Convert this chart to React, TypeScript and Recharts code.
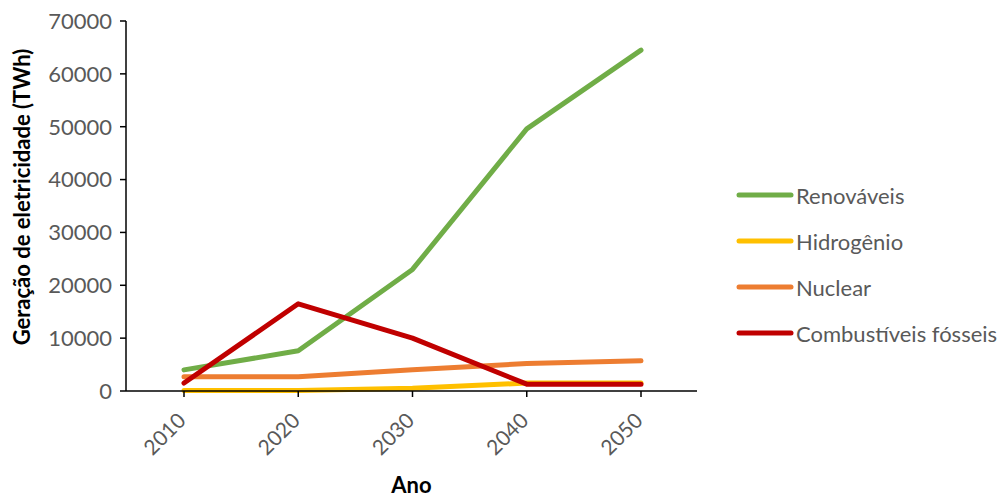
import { CartesianGrid, Legend, Line, LineChart, XAxis, YAxis } from "recharts";

const years = ["2010", "2020", "2030", "2040", "2050"];
const renovaveis = [4000, 7600, 23000, 49600, 64500];
const hidrogenio = [100, 100, 500, 1500, 1500];
const nuclear = [2700, 2700, 4000, 5200, 5700];
const fosseis = [1500, 16500, 10000, 1300, 1300];
const yTicks = [0, 10000, 20000, 30000, 40000, 50000, 60000, 70000];

const series = [
  { key: "renovaveis", name: "Renováveis", color: "#70AD47" },
  { key: "hidrogenio", name: "Hidrogênio", color: "#FFC000" },
  { key: "nuclear", name: "Nuclear", color: "#ED7D31" },
  { key: "fosseis", name: "Combustíveis fósseis", color: "#C00000" },
];

const data = years.map((year, i) => ({
  year,
  renovaveis: renovaveis[i],
  hidrogenio: hidrogenio[i],
  nuclear: nuclear[i],
  fosseis: fosseis[i],
}));

const font = "Lato, 'Open Sans', sans-serif";
const gray = "#595959";

const XTick = (props: any) => {
  const { x, y, payload } = props;
  return (
    <text
      x={x + 3}
      y={y + 23}
      transform={`rotate(-45, ${x + 3}, ${y + 23})`}
      textAnchor="end"
      fill={gray}
      fontSize={21}
      fontFamily={font}
    >
      {payload.value}
    </text>
  );
};

const YLabel = (props: any) => {
  const { viewBox } = props;
  const cy = viewBox.y + viewBox.height / 2 - 9;
  return (
    <text
      x={30}
      y={cy}
      transform={`rotate(-90, 30, ${cy})`}
      textAnchor="middle"
      fill="#000"
      fontSize={22}
      fontWeight={700}
      fontFamily={font}
    >
      Geração de eletricidade (TWh)
    </text>
  );
};

const LegendContent = () => (
  <div style={{ fontFamily: font, fontSize: 22, color: gray }}>
    {series.map((s) => (
      <div key={s.key} style={{ display: "flex", alignItems: "center", height: 46 }}>
        <svg width={58} height={10} style={{ marginRight: 2 }}>
          <line x1={3} y1={5} x2={55} y2={5} stroke={s.color} strokeWidth={5} strokeLinecap="round" />
        </svg>
        <span>{s.name}</span>
      </div>
    ))}
  </div>
);

export default function App() {
  return (
    <div style={{ position: "absolute", left: 0, top: 0, width: 1003, height: 499, background: "#fff" }}>
      <LineChart
        width={1003}
        height={499}
        data={data}
        margin={{ top: 21, right: 306, bottom: 0, left: 0 }}
      >
        <CartesianGrid horizontal={false} vertical={false} />
        <XAxis
          dataKey="year"
          padding={{ left: 58, right: 56 }}
          axisLine={{ stroke: "#000", strokeWidth: 1.5 }}
          tickLine={{ stroke: "#000", strokeWidth: 1.5 }}
          tickSize={6}
          height={108}
          tick={<XTick />}
          interval={0}
          label={{
            value: "Ano",
            position: "insideBottom",
            offset: 6,
            fill: "#000",
            fontSize: 22,
            fontWeight: 700,
            fontFamily: font,
          }}
        />
        <YAxis
          width={126}
          domain={[0, 70000]}
          ticks={yTicks}
          interval={0}
          axisLine={{ stroke: "#000", strokeWidth: 1.5 }}
          tickLine={{ stroke: "#000", strokeWidth: 1.5 }}
          tickSize={6}
          tickMargin={8}
          tick={{ fill: gray, fontSize: 22, fontFamily: font }}
          label={<YLabel />}
        />
        {series.map((s) => (
          <Line
            key={s.key}
            type="linear"
            dataKey={s.key}
            name={s.name}
            stroke={s.color}
            strokeWidth={5}
            dot={false}
            activeDot={false}
            strokeLinecap="round"
            strokeLinejoin="round"
            isAnimationActive={false}
          />
        ))}
        <Legend
          layout="vertical"
          align="center"
          verticalAlign="middle"
          content={<LegendContent />}
          wrapperStyle={{ left: 736, top: 172, width: 267 }}
        />
      </LineChart>
    </div>
  );
}
